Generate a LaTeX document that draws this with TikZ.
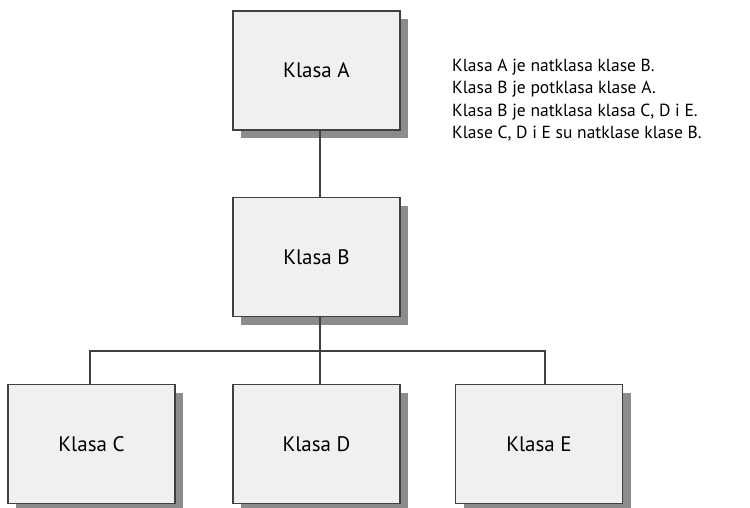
\documentclass[tikz,border=0pt]{standalone}
\usepackage{fontspec}
\setmainfont{PT Sans}
\usetikzlibrary{calc}
\definecolor{boxfill}{HTML}{F0F0F0}
\definecolor{boxline}{HTML}{404040}
\definecolor{shadowc}{HTML}{8C8C8C}
\tikzset{
  classbox/.style={draw=boxline, line width=1.2pt, fill=boxfill, minimum width=167pt, minimum height=119pt, inner sep=0pt, font=\fontsize{21}{22}\selectfont},
  shadowbox/.style={fill=shadowc, draw=none, minimum width=167pt, minimum height=119pt, inner sep=0pt},
  conn/.style={draw=boxline, line width=2.3pt}
}
\begin{document}
\begin{tikzpicture}[x=1pt,y=-1pt]
\useasboundingbox (0,0) rectangle (750,508);
% shadows
\foreach \cx/\cy in {316.5/70.5, 316.5/257, 91.5/444, 316.5/444, 539/444}{
  \node[shadowbox] at (\cx+8,\cy+8) {};
}
\node[classbox] (a) at (316.5,70.5) {Klasa A};
\node[classbox] (b) at (316.5,257) {Klasa B};
\node[classbox] (c) at (91.5,444) {Klasa C};
\node[classbox] (d) at (316.5,444) {Klasa D};
\node[classbox] (e) at (539,444) {Klasa E};
\coordinate (bar) at (320,351);
\draw[conn] ([xshift=3.5pt]a.south) -- ([xshift=3.5pt]b.north);
\draw[conn] ([xshift=3.5pt]b.south) -- ([xshift=3.5pt]d.north);
\draw[conn] ([xshift=-1.5pt]c.north) |- (bar) -| ([xshift=6pt]e.north);
\node[anchor=north west, align=left, inner sep=0pt, font=\fontsize{17.5}{22.3}\selectfont] (txt) at (452,59)
{Klasa A je natklasa klase B.\\Klasa B je potklasa klase A.\\Klasa B je natklasa klasa C, D i E.\\Klase C, D i E su natklase klase B.};
\end{tikzpicture}
\end{document}
